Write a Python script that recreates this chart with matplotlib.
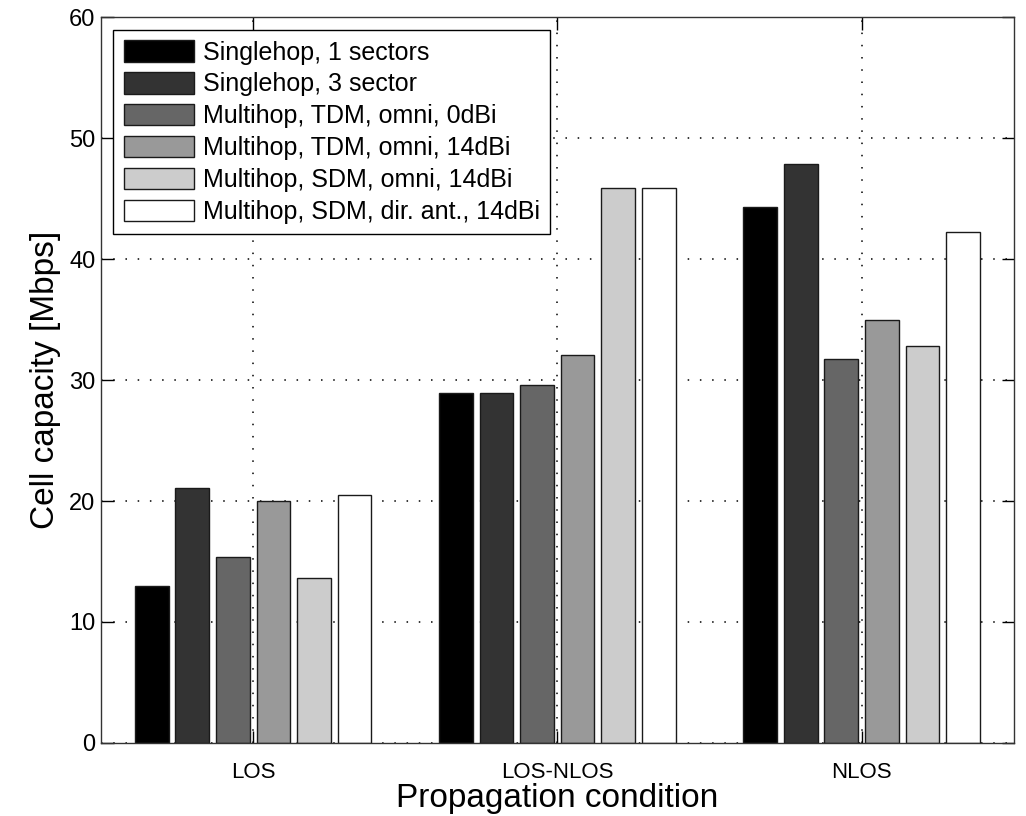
import numpy as np
import matplotlib.pyplot as plt

plt.rcParams['font.family'] = ['Liberation Sans', 'DejaVu Sans']

# propagation conditions on the x axis
conditions = ['LOS', 'LOS-NLOS', 'NLOS']

# cell capacity in Mbps, one list per scheme (LOS, LOS-NLOS, NLOS)
single_1sec = [13.0, 28.9, 44.3]
single_3sec = [21.1, 28.9, 47.9]
tdm_omni_0 = [15.4, 29.6, 31.7]
tdm_omni_14 = [20.0, 32.1, 35.0]
sdm_omni_14 = [13.6, 45.9, 32.8]
sdm_dir_14 = [20.5, 45.9, 42.2]

series = [single_1sec, single_3sec, tdm_omni_0, tdm_omni_14, sdm_omni_14, sdm_dir_14]
labels = ['Singlehop, 1 sectors', 'Singlehop, 3 sector',
          'Multihop, TDM, omni, 0dBi', 'Multihop, TDM, omni, 14dBi',
          'Multihop, SDM, omni, 14dBi', 'Multihop, SDM, dir. ant., 14dBi']
greys = ['#000000', '#333333', '#666666', '#999999', '#cccccc', '#ffffff']

fig = plt.figure(figsize=(10.26, 8.16), dpi=100)
ax = fig.add_axes([0.0984, 0.0895, 0.8896, 0.8895])

x = np.arange(1, len(conditions) + 1)
n = len(series)
step = 0.8 / n
for i, (vals, lab, c) in enumerate(zip(series, labels, greys)):
    off = (i - (n - 1) / 2) * step
    ax.bar(x + off, vals, width=step * 0.83, color=c, edgecolor='#1a1a1a',
           linewidth=1.0, label=lab, zorder=3)

ax.set_xlim(0.5, 3.5)
ax.set_ylim(0, 60)
ax.set_xticks(x)
ax.set_xticklabels(conditions)
ax.set_yticks(np.arange(0, 61, 10))

# matlab-style sparse dotted grid
ax.grid(True, linestyle=(0, (1, 7)), color='black', linewidth=1.1, zorder=1)
ax.set_axisbelow(True)
ax.tick_params(direction='in', length=9, width=1, top=True, right=True,
               labelsize=16)
ax.tick_params(axis='x', pad=14)
ax.tick_params(axis='y', pad=4, labelsize=17)
for s in ax.spines.values():
    s.set_linewidth(1.0)
    s.set_color('#333333')
    s.set_zorder(4)

ax.set_xlabel('Propagation condition', fontsize=24, labelpad=0)
ax.set_ylabel('Cell capacity [Mbps]', fontsize=24, labelpad=6)

leg = ax.legend(loc='upper left', fontsize=18, frameon=True, fancybox=False,
                edgecolor='black', framealpha=1, handlelength=2.8,
                handleheight=0.95, handletextpad=0.35, labelspacing=0.3,
                borderaxespad=0.5, borderpad=0.42)
leg.get_frame().set_linewidth(1.0)
leg.set_zorder(5)

fig.savefig('out.png', dpi=100)
